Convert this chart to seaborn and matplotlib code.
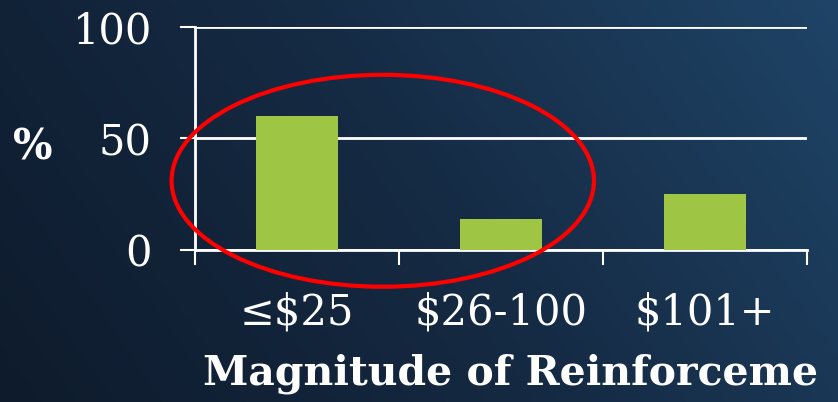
import numpy as np
import pandas as pd
import matplotlib
matplotlib.use("Agg")
import matplotlib.pyplot as plt
import seaborn as sns
from matplotlib.patches import Ellipse
from matplotlib.colors import LinearSegmentedColormap

categories = ["≤$25", "$26-100", "$101+"]
percent = [60, 14, 25]
y_ticks = [0, 50, 100]

sns.set_theme(style="white")
plt.rcParams["font.family"] = ["DejaVu Serif", "DejaVu Sans"]

W, H = 838, 402
fig = plt.figure(figsize=(W / 100 + 0.002, H / 100 + 0.002), dpi=100)

# background gradient
bg = fig.add_axes([0, 0, 1, 1], zorder=-10)
xx = np.linspace(0, 1, 300)
yy = np.linspace(0, 1, 150)
X, Y = np.meshgrid(xx, yy)
Z = 0.75 * X + 0.25 * (1 - Y)
cmap = LinearSegmentedColormap.from_list("bgc", ["#0e1b2c", "#152a43", "#1f4467"])
bg.imshow(Z, cmap=cmap, aspect="auto", extent=[0, 1, 0, 1], origin="upper")
bg.axis("off")

ax = fig.add_axes([195 / W, 1 - 250 / H, 612 / W, 223 / H])
ax.patch.set_alpha(0)

df = pd.DataFrame({"cat": categories, "pct": percent})
sns.barplot(data=df, x="cat", y="pct", color="#9fc545", width=0.4,
            saturation=1, ax=ax, zorder=3, edgecolor="none", linewidth=0)

ax.set_xlim(-0.5, 2.5)
ax.set_ylim(0, 100)
ax.set_yticks(y_ticks)
ax.set_yticklabels([str(v) for v in y_ticks])
ax.yaxis.grid(True, color="white", linewidth=2.0)
ax.set_axisbelow(True)

ax.set_xticks([-0.5, 0.5, 1.5, 2.5])
ax.set_xticklabels([])
ax.set_xticks([0, 1, 2], minor=True)
ax.set_xticklabels(categories, minor=True)

ax.tick_params(axis="y", which="major", length=11, width=1.5, color="white",
               labelcolor="white", labelsize=30, pad=20, left=True, right=False)
ax.tick_params(axis="x", which="major", length=11, width=1.5, color="white",
               bottom=True, top=False, direction="out")
ax.tick_params(axis="x", which="minor", length=0, labelcolor="white",
               labelsize=30, pad=30, top=False)

for s in ["top", "right"]:
    ax.spines[s].set_visible(False)
for s in ["left", "bottom"]:
    ax.spines[s].set_color("white")
    ax.spines[s].set_linewidth(2.0)

ax.set_xlabel("")
ax.set_ylabel("")

fig.text(33 / W, 1 - 147 / H, "%", color="white", fontsize=30,
         fontweight="bold", ha="center", va="center")
fig.text(203 / W, 1 - 374 / H, "Magnitude of Reinforceme", color="white",
         fontsize=29.5, fontweight="bold", ha="left", va="center")

ell = Ellipse((0.42, 31), width=2.07, height=95, fill=False,
              edgecolor="#ff0000", linewidth=3, clip_on=False, zorder=5)
ax.add_patch(ell)

fig.savefig("out.png", dpi=100)
